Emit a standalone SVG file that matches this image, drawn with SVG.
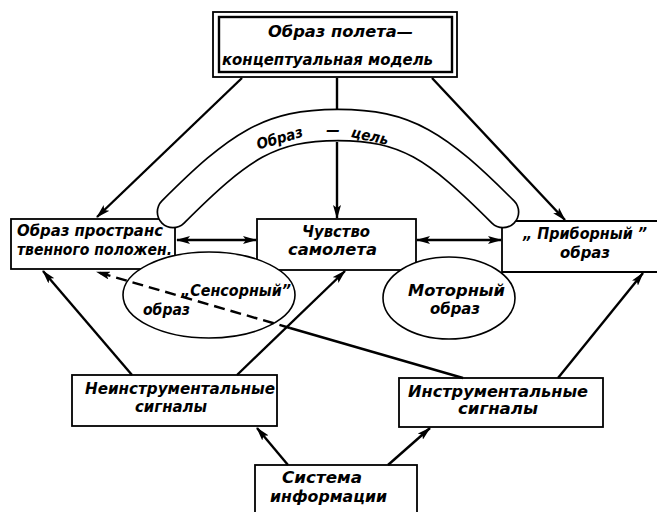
<svg xmlns="http://www.w3.org/2000/svg" width="657" height="512" viewBox="0 0 657 512">
<style>
.box{fill:#fff;stroke:#000;stroke-width:1.8}
.ln{fill:none;stroke:#000;stroke-width:1.8}
.ell{fill:#fff;stroke:#000;stroke-width:1.6}
.t{font-family:"DejaVu Sans Condensed","DejaVu Sans",sans-serif;font-style:oblique;font-weight:bold;font-size:15px;fill:#000}
.c{fill:none;stroke:#000;stroke-width:2.4}
.a{marker-end:url(#ah)}
.d{marker-start:url(#ah);marker-end:url(#ah)}
</style>
<defs>
<marker id="ah" viewBox="0 0 14 8" refX="13" refY="4" markerWidth="14" markerHeight="8" markerUnits="userSpaceOnUse" orient="auto-start-reverse">
<path d="M0,0 L14,4 L0,8 L3,4 z" fill="#000"/>
</marker>
<path id="archpath" d="M173,212 C240,145 270,125 338,125 S436,145 503,212"/>
</defs>
<rect width="657" height="512" fill="#fff"/>

<g id="top">
<rect class="box" x="213" y="12" width="244" height="65"/>
<rect class="box" x="219" y="17" width="233" height="55" style="stroke-width:2.4"/>
<text class="t" x="268" y="37" textLength="145" lengthAdjust="spacingAndGlyphs">Образ  полета—</text>
<text class="t" x="222" y="65" textLength="211" lengthAdjust="spacingAndGlyphs">концептуальная  модель</text>
</g>

<g id="left">
<rect class="box" x="11" y="219" width="164" height="50"/>
<text class="t" x="17" y="236" textLength="146" lengthAdjust="spacingAndGlyphs">Образ  пространс</text>
<text class="t" x="17" y="255" textLength="155" lengthAdjust="spacingAndGlyphs">твенного  положен.</text>
</g>

<g id="center">
<rect class="box" x="257" y="219" width="159" height="51"/>
<text class="t" x="302" y="237" textLength="68" lengthAdjust="spacingAndGlyphs">Чувство</text>
<text class="t" x="288" y="255" textLength="89" lengthAdjust="spacingAndGlyphs">самолета</text>
</g>

<g id="right">
<path class="ln" d="M660,221 H502 V272 H660"/>
<text class="t" x="523" y="239" textLength="124" lengthAdjust="spacingAndGlyphs">„ Приборный ”</text>
<text class="t" x="560" y="258" textLength="50" lengthAdjust="spacingAndGlyphs">образ</text>
</g>

<g id="arch">
<use href="#archpath" fill="none" stroke="#000" stroke-width="33" stroke-linecap="round"/>
<use href="#archpath" fill="none" stroke="#fff" stroke-width="29.6" stroke-linecap="round"/>
<text class="t" x="281" y="143" text-anchor="middle" transform="rotate(-16 281 143)">Образ</text>
<text class="t" x="333" y="135" text-anchor="middle">—</text>
<text class="t" x="369" y="141" text-anchor="middle" transform="rotate(12 369 141)">цель</text>
</g>

<g id="sensory">
<ellipse class="ell" cx="209" cy="295" rx="86" ry="43"/>
<text class="t" x="181" y="296" textLength="110" lengthAdjust="spacingAndGlyphs">„Сенсорный”</text>
<text class="t" x="143" y="315" textLength="47" lengthAdjust="spacingAndGlyphs">образ</text>
</g>

<g id="motor">
<ellipse class="ell" cx="449" cy="298" rx="66" ry="41"/>
<text class="t" x="408" y="296" textLength="97" lengthAdjust="spacingAndGlyphs">Моторный</text>
<text class="t" x="430" y="314" textLength="50" lengthAdjust="spacingAndGlyphs">образ</text>
</g>

<g id="noninstr">
<rect class="box" x="72" y="375" width="205" height="51"/>
<text class="t" x="85" y="394" textLength="190" lengthAdjust="spacingAndGlyphs">Неинструментальные</text>
<text class="t" x="135" y="412" textLength="72" lengthAdjust="spacingAndGlyphs">сигналы</text>
</g>

<g id="instr">
<rect class="box" x="399" y="378" width="204" height="49"/>
<text class="t" x="408" y="397" textLength="180" lengthAdjust="spacingAndGlyphs">Инструментальные</text>
<text class="t" x="458" y="414" textLength="80" lengthAdjust="spacingAndGlyphs">сигналы</text>
</g>

<g id="system">
<rect class="box" x="255" y="465" width="162" height="52"/>
<text class="t" x="282" y="483" textLength="80" lengthAdjust="spacingAndGlyphs">Система</text>
<text class="t" x="270" y="502" textLength="117" lengthAdjust="spacingAndGlyphs">информации</text>
</g>

<g id="connectors">
<line class="c a" x1="242" y1="78" x2="97" y2="217"/>
<line class="c" x1="337" y1="78" x2="337" y2="109"/>
<line class="c a" x1="337" y1="142" x2="337" y2="218"/>
<line class="c a" x1="432" y1="78" x2="565" y2="220"/>
<line class="c d" x1="177" y1="240" x2="256" y2="240"/>
<line class="c d" x1="417" y1="240" x2="501" y2="240"/>
<line class="c a" x1="132" y1="375" x2="43" y2="271"/>
<line class="c a" x1="237" y1="375" x2="345" y2="271"/>
<line class="c a" x1="558" y1="378" x2="643" y2="273"/>
<line class="c" x1="463" y1="378" x2="290" y2="328"/>
<line class="c a" x1="290" y1="328" x2="97" y2="272" stroke-dasharray="11 6"/>
<line class="c a" x1="288" y1="465" x2="257" y2="428"/>
<line class="c a" x1="388" y1="465" x2="430" y2="428"/>
</g>
</svg>
